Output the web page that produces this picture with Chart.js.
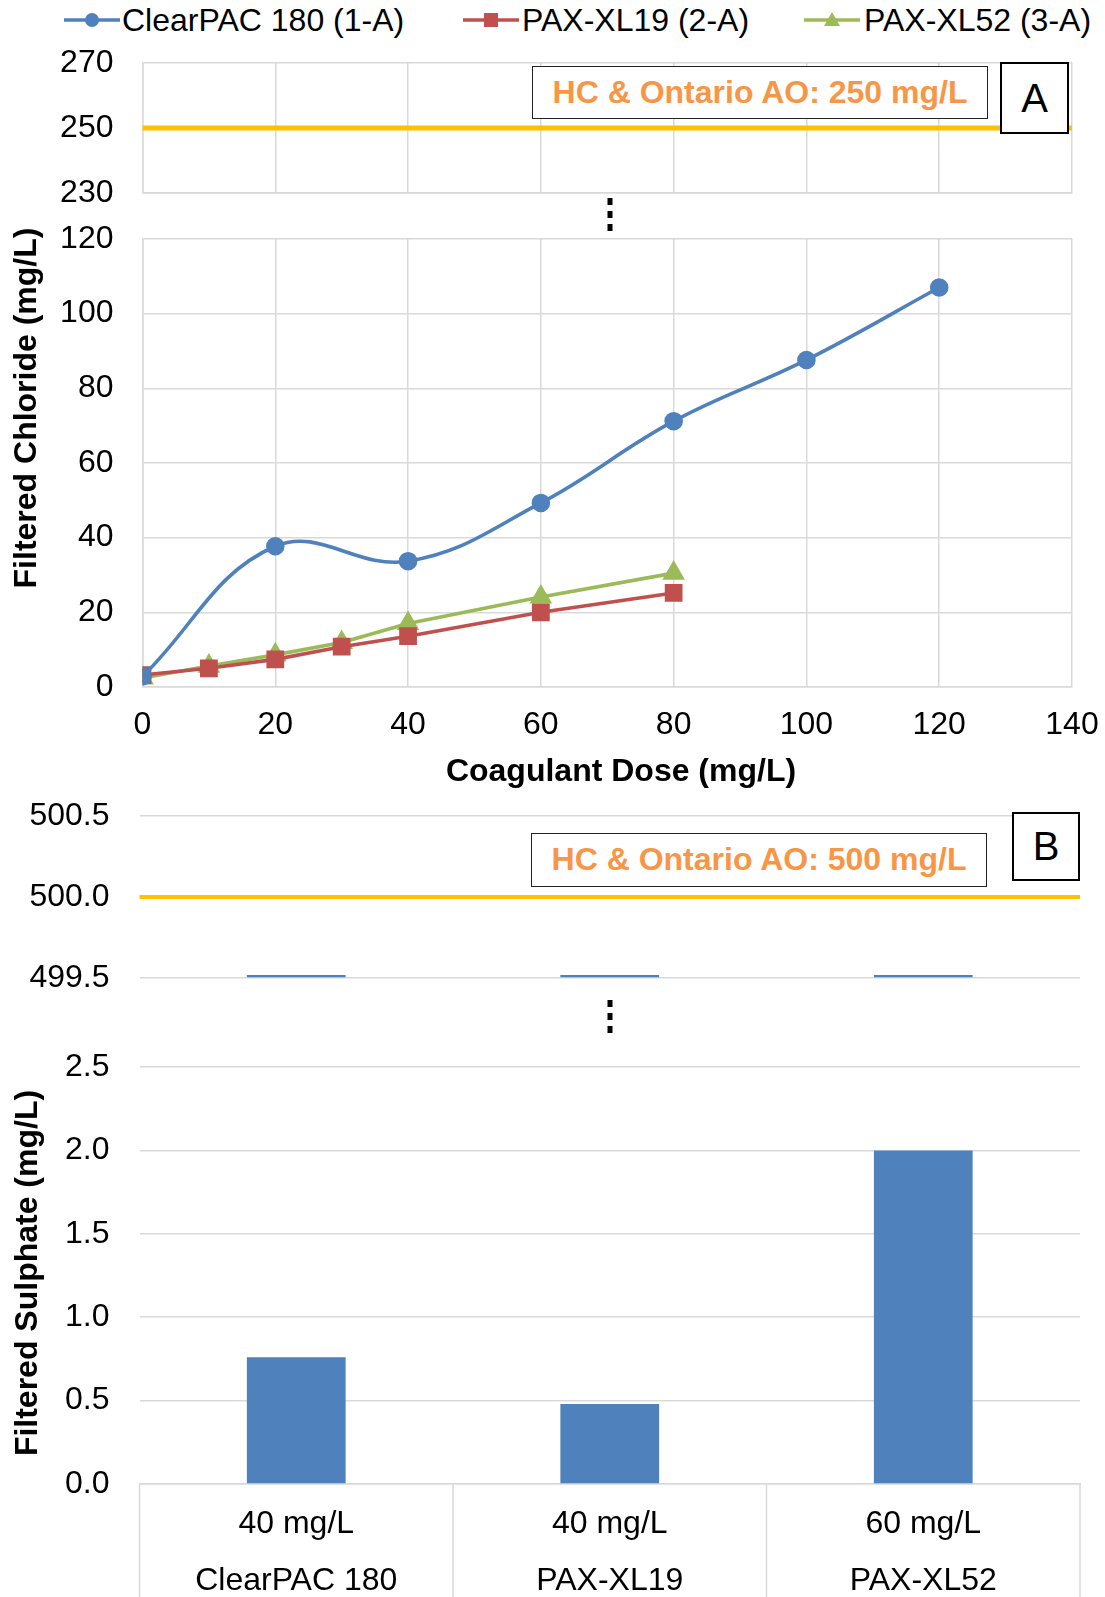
<!DOCTYPE html>
<html><head><meta charset="utf-8">
<script src="https://cdn.jsdelivr.net/npm/chart.js@4/dist/chart.umd.min.js"></script>
<style>
html,body{margin:0;padding:0;background:#fff;width:1105px;height:1597px;overflow:hidden;position:relative;font-family:"Liberation Sans",Arial,sans-serif;}
canvas{position:absolute;left:0;}
.abs{position:absolute;box-sizing:border-box;}
.legend-item{position:absolute;top:0;height:40px;line-height:40px;font-size:32px;color:#000;white-space:nowrap;}
.legend-mark{position:absolute;top:10px;}
.note{position:absolute;box-sizing:border-box;border:1.5px solid #222;background:#fff;color:#F79646;font-weight:bold;font-size:32px;text-align:center;white-space:nowrap;}
.letter{position:absolute;box-sizing:border-box;border:2px solid #000;background:#fff;color:#000;font-size:40px;text-align:center;}
.ytitle{position:absolute;width:420px;height:40px;line-height:40px;font-size:32px;font-weight:bold;text-align:center;transform:rotate(-90deg);color:#000;white-space:nowrap;}
.xtitle{position:absolute;width:500px;height:40px;line-height:40px;font-size:32px;font-weight:bold;text-align:center;color:#000;white-space:nowrap;}
</style>
</head>
<body>
<div class="legend-item" style="left:64px;width:400px;">
  <svg class="legend-mark" width="56" height="20" style="left:0"><line x1="0" y1="10" x2="56" y2="10" stroke="#4F81BD" stroke-width="3.5"/><circle cx="28" cy="10" r="7" fill="#4F81BD"/></svg>
  <span style="position:absolute;left:58px;">ClearPAC 180 (1-A)</span>
</div>
<div class="legend-item" style="left:463px;width:330px;">
  <svg class="legend-mark" width="56" height="20" style="left:0"><line x1="0" y1="10" x2="56" y2="10" stroke="#C0504D" stroke-width="3.5"/><rect x="21" y="3" width="14" height="14" fill="#C0504D"/></svg>
  <span style="position:absolute;left:59px;">PAX-XL19 (2-A)</span>
</div>
<div class="legend-item" style="left:804px;width:300px;">
  <svg class="legend-mark" width="56" height="20" style="left:0"><line x1="0" y1="10" x2="56" y2="10" stroke="#9BBB59" stroke-width="3.5"/><polygon points="28,2 36,16 20,16" fill="#9BBB59"/></svg>
  <span style="position:absolute;left:60px;">PAX-XL52 (3-A)</span>
</div>

<canvas id="c1" width="1105" height="175" style="top:40px"></canvas>
<canvas id="c2" width="1105" height="540" style="top:215px"></canvas>
<canvas id="c3" width="1105" height="205" style="top:795px"></canvas>
<canvas id="c4" width="1105" height="552" style="top:1045px"></canvas>

<div class="ytitle" style="left:-185px;top:388px;">Filtered Chloride (mg/L)</div>
<div class="ytitle" style="left:-184px;top:1253px;">Filtered Sulphate (mg/L)</div>
<div class="xtitle" style="left:371px;top:750px;">Coagulant Dose (mg/L)</div>

<div class="note" style="left:532px;top:66px;width:456px;height:53px;line-height:50px;">HC &amp; Ontario AO: 250 mg/L</div>
<div class="letter" style="left:1000px;top:62px;width:69px;height:72px;line-height:68px;">A</div>
<div class="note" style="left:531px;top:833px;width:456px;height:54px;line-height:51px;">HC &amp; Ontario AO: 500 mg/L</div>
<div class="letter" style="left:1012px;top:812px;width:68px;height:69px;line-height:65px;">B</div>

<svg class="abs" style="left:605px;top:198px;" width="10" height="36"><line x1="5" y1="0" x2="5" y2="36" stroke="#000" stroke-width="5" stroke-dasharray="7,6"/></svg>
<svg class="abs" style="left:605px;top:1000px;" width="10" height="36"><line x1="5" y1="0" x2="5" y2="36" stroke="#000" stroke-width="5" stroke-dasharray="7,6"/></svg>

<script>
// ---------- Data ----------
const clearpacDose = [0, 20, 40, 60, 80, 100, 120];
const clearpacChloride = [2.8, 37.7, 33.7, 49.3, 71.2, 87.6, 107.0];
const xl19Dose = [0, 10, 20, 30, 40, 60, 80];
const xl19Chloride = [3.2, 5.0, 7.4, 10.8, 13.6, 20.0, 25.2];
const xl52Dose = [0, 10, 20, 30, 40, 60, 80];
const xl52Chloride = [2.4, 5.6, 8.6, 11.9, 17.0, 24.1, 30.5];
const chlorideLimit = 250;

const doseXTicks = [0, 20, 40, 60, 80, 100, 120, 140];
const chlorideUpperYTicks = [230, 250, 270];
const chlorideLowerYTicks = [0, 20, 40, 60, 80, 100, 120];

const sulphateDoses = ['40 mg/L', '40 mg/L', '60 mg/L'];
const sulphateProducts = ['ClearPAC 180', 'PAX-XL19', 'PAX-XL52'];
const sulphateValues = [0.76, 0.48, 2.0];
const sulphateLimit = 500;
const sulphateUpperYTicks = [499.5, 500.0, 500.5];
const sulphateLowerYTicks = [0.0, 0.5, 1.0, 1.5, 2.0, 2.5];

// ---------- Styles ----------
const GRID = '#D9D9D9';
const BLUE = '#4F81BD', RED = '#C0504D', GREEN = '#9BBB59', GOLD = '#FFC000';
Chart.defaults.font.family = "'Liberation Sans', Arial, sans-serif";
Chart.defaults.font.size = 32;
Chart.defaults.color = '#000';

const refLine = {
  id: 'refLine',
  afterDatasetsDraw(chart, args, opts) {
    if (opts.value == null) return;
    const y = chart.scales.y.getPixelForValue(opts.value);
    const a = chart.chartArea;
    const ctx = chart.ctx;
    ctx.save();
    ctx.strokeStyle = opts.color; ctx.lineWidth = opts.width;
    ctx.beginPath(); ctx.moveTo(a.left, y); ctx.lineTo(a.right, y); ctx.stroke();
    ctx.restore();
  }
};
const catSeparators = {
  id: 'catSeparators',
  afterDraw(chart, args, opts) {
    if (!opts.enabled) return;
    const xs = chart.scales.x, a = chart.chartArea, ctx = chart.ctx;
    const n = xs.getLabels().length;
    const bounds = [a.left];
    for (let i = 0; i < n - 1; i++) bounds.push((xs.getPixelForValue(i) + xs.getPixelForValue(i + 1)) / 2);
    bounds.push(a.right);
    ctx.save();
    ctx.strokeStyle = GRID; ctx.lineWidth = 1.5;
    bounds.forEach(x => { ctx.beginPath(); ctx.moveTo(x, a.bottom); ctx.lineTo(x, chart.height); ctx.stroke(); });
    ctx.restore();
  }
};
Chart.register(refLine, catSeparators);

function setTicks(arr) { return s => { s.ticks = arr.map(v => ({ value: v })); }; }
function fitY(w) { return s => { s.width = w; s.paddingTop = 0; s.paddingBottom = 0; s.paddingLeft = 0; s.paddingRight = 0; }; }
function fitX(h) { return s => { s.height = h; s.paddingTop = 0; s.paddingBottom = 0; s.paddingLeft = 0; s.paddingRight = 0; }; }
function base(extra) {
  return Object.assign({ responsive: false, animation: false, devicePixelRatio: 1, events: [] }, extra);
}
function lineDatasets() {
  const pts = (xs, ys) => xs.map((x, i) => ({ x, y: ys[i] }));
  return [
    { label: 'ClearPAC 180 (1-A)', data: pts(clearpacDose, clearpacChloride), borderColor: BLUE, backgroundColor: BLUE,
      borderWidth: 3.6, pointStyle: 'circle', pointRadius: 7.5, tension: 0.4 },
    { label: 'PAX-XL19 (2-A)', data: pts(xl19Dose, xl19Chloride), borderColor: RED, backgroundColor: RED,
      borderWidth: 3.6, pointStyle: 'rect', pointRadius: 10, tension: 0 },
    { label: 'PAX-XL52 (3-A)', data: pts(xl52Dose, xl52Chloride), borderColor: GREEN, backgroundColor: GREEN,
      borderWidth: 3.6, pointStyle: 'triangle', pointRadius: 9.5, tension: 0 }
  ];
}

// Panel A upper segment
new Chart(document.getElementById('c1'), {
  type: 'line',
  data: { datasets: lineDatasets() },
  options: base({
    layout: { padding: { top: 23, bottom: 22, right: 33, left: 0 } },
    plugins: { legend: { display: false }, tooltip: { enabled: false }, refLine: { value: chlorideLimit, color: GOLD, width: 5 }, catSeparators: { enabled: false } },
    scales: {
      x: { type: 'linear', min: doseXTicks[0], max: doseXTicks[doseXTicks.length - 1], afterBuildTicks: setTicks(doseXTicks),
           ticks: { display: false }, grid: { color: GRID, lineWidth: 1.5, drawTicks: false }, border: { color: GRID, width: 1.5 },
           afterFit: fitX(0) },
      y: { min: chlorideUpperYTicks[0], max: chlorideUpperYTicks[chlorideUpperYTicks.length - 1], afterBuildTicks: setTicks(chlorideUpperYTicks),
           ticks: { padding: 29 }, grid: { color: GRID, lineWidth: 1.5, drawTicks: false }, border: { color: GRID, width: 1.5 },
           afterFit: fitY(142.5) }
    }
  })
});

// Panel A lower segment
new Chart(document.getElementById('c2'), {
  type: 'line',
  data: { datasets: lineDatasets() },
  options: base({
    layout: { padding: { top: 24, bottom: 0, right: 33, left: 0 } },
    plugins: { legend: { display: false }, tooltip: { enabled: false }, refLine: {}, catSeparators: { enabled: false } },
    scales: {
      x: { type: 'linear', min: doseXTicks[0], max: doseXTicks[doseXTicks.length - 1], afterBuildTicks: setTicks(doseXTicks),
           ticks: { padding: 19, maxRotation: 0, autoSkip: false }, grid: { color: GRID, lineWidth: 1.5, drawTicks: false }, border: { color: GRID, width: 1.5 },
           afterFit: fitX(68) },
      y: { min: chlorideLowerYTicks[0], max: chlorideLowerYTicks[chlorideLowerYTicks.length - 1], afterBuildTicks: setTicks(chlorideLowerYTicks),
           ticks: { padding: 29 }, grid: { color: GRID, lineWidth: 1.5, drawTicks: false }, border: { color: GRID, width: 1.5 },
           afterFit: fitY(142.5) }
    }
  })
});

// Panel B upper segment
const upperMin = sulphateUpperYTicks[0];
new Chart(document.getElementById('c3'), {
  type: 'bar',
  data: {
    labels: sulphateProducts,
    datasets: [{ data: sulphateValues.map(v => Math.max(v, upperMin)), base: upperMin, minBarLength: 3,
                 backgroundColor: BLUE, borderWidth: 0, barPercentage: 0.315, categoryPercentage: 1 }]
  },
  options: base({
    layout: { padding: { top: 21, bottom: 22, right: 25, left: 0 } },
    plugins: { legend: { display: false }, tooltip: { enabled: false }, refLine: { value: sulphateLimit, color: GOLD, width: 4 }, catSeparators: { enabled: false } },
    scales: {
      x: { display: false },
      y: { min: upperMin, max: sulphateUpperYTicks[sulphateUpperYTicks.length - 1], afterBuildTicks: setTicks(sulphateUpperYTicks),
           ticks: { padding: 30, callback: v => Number(v).toFixed(1) }, grid: { color: GRID, lineWidth: 1.5, drawTicks: false }, border: { display: false },
           afterFit: fitY(139.5) }
    }
  })
});

// Panel B lower segment
new Chart(document.getElementById('c4'), {
  type: 'bar',
  data: {
    labels: sulphateProducts.map((p, i) => [sulphateDoses[i], p]),
    datasets: [{ data: sulphateValues, backgroundColor: BLUE, borderWidth: 0, barPercentage: 0.315, categoryPercentage: 1 }]
  },
  options: base({
    layout: { padding: { top: 22, bottom: 0, right: 25, left: 0 } },
    plugins: { legend: { display: false }, tooltip: { enabled: false }, refLine: {}, catSeparators: { enabled: true } },
    scales: {
      x: { ticks: { padding: 11.5, maxRotation: 0, autoSkip: false, font: { size: 32, lineHeight: 1.78 } },
           grid: { display: false, drawTicks: false }, border: { color: GRID, width: 1.5 },
           afterFit: fitX(113) },
      y: { min: sulphateLowerYTicks[0], max: sulphateLowerYTicks[sulphateLowerYTicks.length - 1], afterBuildTicks: setTicks(sulphateLowerYTicks),
           ticks: { padding: 30, callback: v => Number(v).toFixed(1) }, grid: { color: GRID, lineWidth: 1.5, drawTicks: false }, border: { display: false },
           afterFit: fitY(139.5) }
    }
  })
});
</script>
</body></html>
